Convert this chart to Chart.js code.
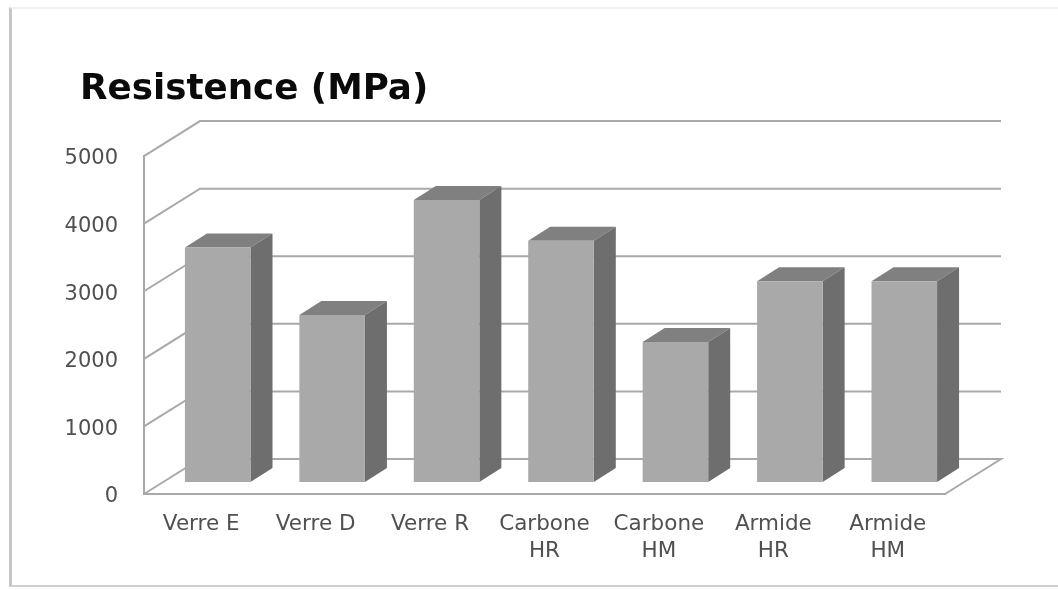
<!DOCTYPE html>
<html><head><meta charset="utf-8">
<style>
html,body{margin:0;padding:0;background:#fff;width:1058px;height:590px;overflow:hidden}
#w{position:relative;width:1058px;height:590px}
#f{position:absolute;left:9px;top:7px;width:1049px;height:580px;box-sizing:border-box;border-left:3px solid #c6c6c6;border-top:2px solid #f1f1f1;border-bottom:2px solid #cfcfcf}
canvas{position:absolute;left:0;top:0;filter:blur(0.5px)}
</style>
<script src="https://cdn.jsdelivr.net/npm/chart.js@4"></script>
</head><body><div id="w"><div id="f"></div><canvas id="c" width="1058" height="590"></canvas></div>
<script>
const categories = ["Verre E","Verre D","Verre R",["Carbone","HR"],["Carbone","HM"],["Armide","HR"],["Armide","HM"]];
const resistance = [3500,2500,4200,3600,2100,3000,3000];
const titleText = "Resistence (MPa)";
const wallDX = 56, wallDY = -35;
const barShiftX = 16.5, barShiftY = -10;
const sideDX = 22, sideDY = -14;
const plugin3d = {
  id:'plugin3d',
  afterLayout(chart){ chart.titleBlock.left = 80; },
  beforeDatasetsDraw(chart){
    const {ctx,chartArea:a,scales:{y}} = chart;
    ctx.save();
    ctx.strokeStyle='#a9a9a9'; ctx.lineWidth=2; ctx.lineJoin='miter';
    for(const t of y.ticks){
      const py=y.getPixelForValue(t.value);
      ctx.beginPath();
      ctx.moveTo(a.left,py);
      ctx.lineTo(a.left+wallDX,py+wallDY);
      ctx.lineTo(a.right+wallDX,py+wallDY);
      if(t.value===0) ctx.lineTo(a.right,py);
      ctx.stroke();
    }
    ctx.restore();
    ctx.save();
    ctx.translate(barShiftX,barShiftY);
    for(const b of chart.getDatasetMeta(0).data){
      const l=b.x-b.width/2,r=b.x+b.width/2,t=b.y,bt=b.base;
      ctx.fillStyle='#808080';
      ctx.beginPath();ctx.moveTo(l,t);ctx.lineTo(l+sideDX,t+sideDY);ctx.lineTo(r+sideDX,t+sideDY);ctx.lineTo(r,t);ctx.closePath();ctx.fill();
      ctx.fillStyle='#6e6e6e';
      ctx.beginPath();ctx.moveTo(r,t);ctx.lineTo(r+sideDX,t+sideDY);ctx.lineTo(r+sideDX,bt+sideDY);ctx.lineTo(r,bt);ctx.closePath();ctx.fill();
    }
  },
  afterDatasetsDraw(chart){ chart.ctx.restore(); }
};
new Chart(document.getElementById('c'),{
  type:'bar',
  data:{labels:categories,datasets:[{data:resistance,backgroundColor:'#a9a9a9',borderWidth:0,base:30,barPercentage:0.573,categoryPercentage:1,clip:false}]},
  options:{
    responsive:false,animation:false,
    layout:{padding:{left:0,right:113,top:0,bottom:0}},
    plugins:{
      legend:{display:false},tooltip:{enabled:false},
      title:{display:true,text:titleText,align:'start',color:'#0a0a0a',
        font:{family:'"DejaVu Sans"',weight:'bold',size:35.7,lineHeight:1.2},padding:{top:68,bottom:45.2}}
    },
    scales:{
      x:{grid:{display:false},border:{color:'#a9a9a9',width:2},
        afterFit(s){s.height=96},
        ticks:{color:'#505050',font:{family:'"DejaVu Sans"',size:21.5,lineHeight:1.26},padding:9,maxRotation:0,autoSkip:false}},
      y:{min:0,max:5000,grid:{display:false},border:{color:'#a9a9a9',width:2},
        afterFit(s){s.width=144},
        ticks:{stepSize:1000,color:'#505050',font:{family:'"DejaVu Sans"',size:21},padding:18,labelOffset:3,format:{useGrouping:false}}}
    }
  },
  plugins:[plugin3d]
});
</script></body></html>
